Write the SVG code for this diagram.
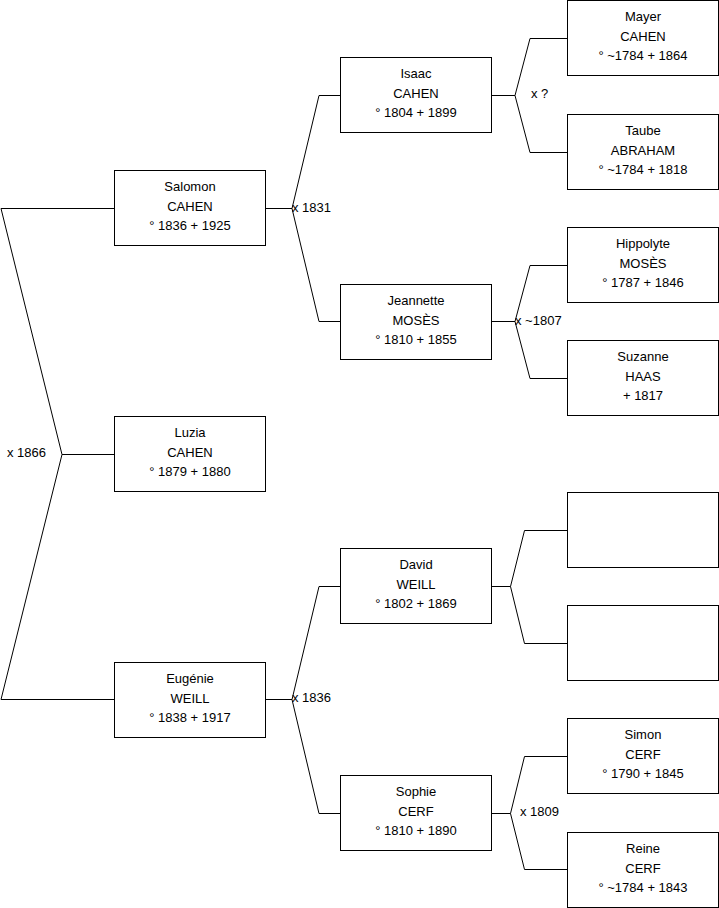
<svg xmlns="http://www.w3.org/2000/svg" width="719" height="908" viewBox="0 0 719 908">
<style>
.box{fill:#fff;stroke:#000;stroke-width:1}
.con{fill:none;stroke:#000;stroke-width:1}
text{font-family:"Liberation Sans",Arial,sans-serif;font-size:13px;fill:#000}
.n text{text-anchor:middle}
</style>
<rect width="719" height="908" fill="#fff"/>
<g id="connectors">
<polyline class="con" points="114,208.5 1,208.5 62,454.5 114,454.5"/>
<polyline class="con" points="62,454.5 1,699.5 114,699.5"/>
<polyline class="con" points="265,208.5 292,208.5 319,95.5 341,95.5"/>
<polyline class="con" points="292,208.5 319,321.5 341,321.5"/>
<polyline class="con" points="265,699.5 292,699.5 319,586.5 341,586.5"/>
<polyline class="con" points="292,699.5 319,813.5 341,813.5"/>
<polyline class="con" points="491,95.5 515,95.5 530,38.5 567,38.5"/>
<polyline class="con" points="515,95.5 530,152.5 567,152.5"/>
<polyline class="con" points="491,321.5 515,321.5 530,265.5 567,265.5"/>
<polyline class="con" points="515,321.5 530,378.5 567,378.5"/>
<polyline class="con" points="491,586.5 510.5,586.5 524.5,530.5 567,530.5"/>
<polyline class="con" points="510.5,586.5 524.5,643.5 567,643.5"/>
<polyline class="con" points="491,813.5 510.5,813.5 524.5,756.5 567,756.5"/>
<polyline class="con" points="510.5,813.5 524.5,869.5 567,869.5"/>
<text x="7" y="457">x 1866</text>
<text x="292" y="211.5">x 1831</text>
<text x="292" y="702">x 1836</text>
<text x="531" y="98">x ?</text>
<text x="515" y="325">x ~1807</text>
<text x="520" y="815.5">x 1809</text>
</g>
<g id="salomon" class="n"><rect class="box" x="114.5" y="170.5" width="151" height="75"/><text x="190" y="191">Salomon</text><text x="190" y="211">CAHEN</text><text x="190" y="230">° 1836 + 1925</text></g>
<g id="luzia" class="n"><rect class="box" x="114.5" y="416.5" width="151" height="75"/><text x="190" y="437">Luzia</text><text x="190" y="457">CAHEN</text><text x="190" y="476">° 1879 + 1880</text></g>
<g id="eugenie" class="n"><rect class="box" x="114.5" y="662.5" width="151" height="75"/><text x="190" y="683">Eugénie</text><text x="190" y="703">WEILL</text><text x="190" y="722">° 1838 + 1917</text></g>
<g id="isaac" class="n"><rect class="box" x="340.5" y="57.5" width="151" height="75"/><text x="416" y="78">Isaac</text><text x="416" y="98">CAHEN</text><text x="416" y="117">° 1804 + 1899</text></g>
<g id="jeannette" class="n"><rect class="box" x="340.5" y="284.5" width="151" height="75"/><text x="416" y="305">Jeannette</text><text x="416" y="325">MOSÈS</text><text x="416" y="344">° 1810 + 1855</text></g>
<g id="david" class="n"><rect class="box" x="340.5" y="548.5" width="151" height="75"/><text x="416" y="569">David</text><text x="416" y="589">WEILL</text><text x="416" y="608">° 1802 + 1869</text></g>
<g id="sophie" class="n"><rect class="box" x="340.5" y="775.5" width="151" height="75"/><text x="416" y="796">Sophie</text><text x="416" y="816">CERF</text><text x="416" y="835">° 1810 + 1890</text></g>
<g id="mayer" class="n"><rect class="box" x="567.5" y="0.5" width="151" height="75"/><text x="643" y="21">Mayer</text><text x="643" y="41">CAHEN</text><text x="643" y="60">° ~1784 + 1864</text></g>
<g id="taube" class="n"><rect class="box" x="567.5" y="114.5" width="151" height="75"/><text x="643" y="135">Taube</text><text x="643" y="155">ABRAHAM</text><text x="643" y="174">° ~1784 + 1818</text></g>
<g id="hippolyte" class="n"><rect class="box" x="567.5" y="227.5" width="151" height="75"/><text x="643" y="248">Hippolyte</text><text x="643" y="268">MOSÈS</text><text x="643" y="287">° 1787 + 1846</text></g>
<g id="suzanne" class="n"><rect class="box" x="567.5" y="340.5" width="151" height="75"/><text x="643" y="361">Suzanne</text><text x="643" y="381">HAAS</text><text x="643" y="400">+ 1817</text></g>
<g id="blank1" class="n"><rect class="box" x="567.5" y="492.5" width="151" height="75"/></g>
<g id="blank2" class="n"><rect class="box" x="567.5" y="605.5" width="151" height="75"/></g>
<g id="simon" class="n"><rect class="box" x="567.5" y="718.5" width="151" height="75"/><text x="643" y="739">Simon</text><text x="643" y="759">CERF</text><text x="643" y="778">° 1790 + 1845</text></g>
<g id="reine" class="n"><rect class="box" x="567.5" y="832.5" width="151" height="75"/><text x="643" y="853">Reine</text><text x="643" y="873">CERF</text><text x="643" y="892">° ~1784 + 1843</text></g>
</svg>
